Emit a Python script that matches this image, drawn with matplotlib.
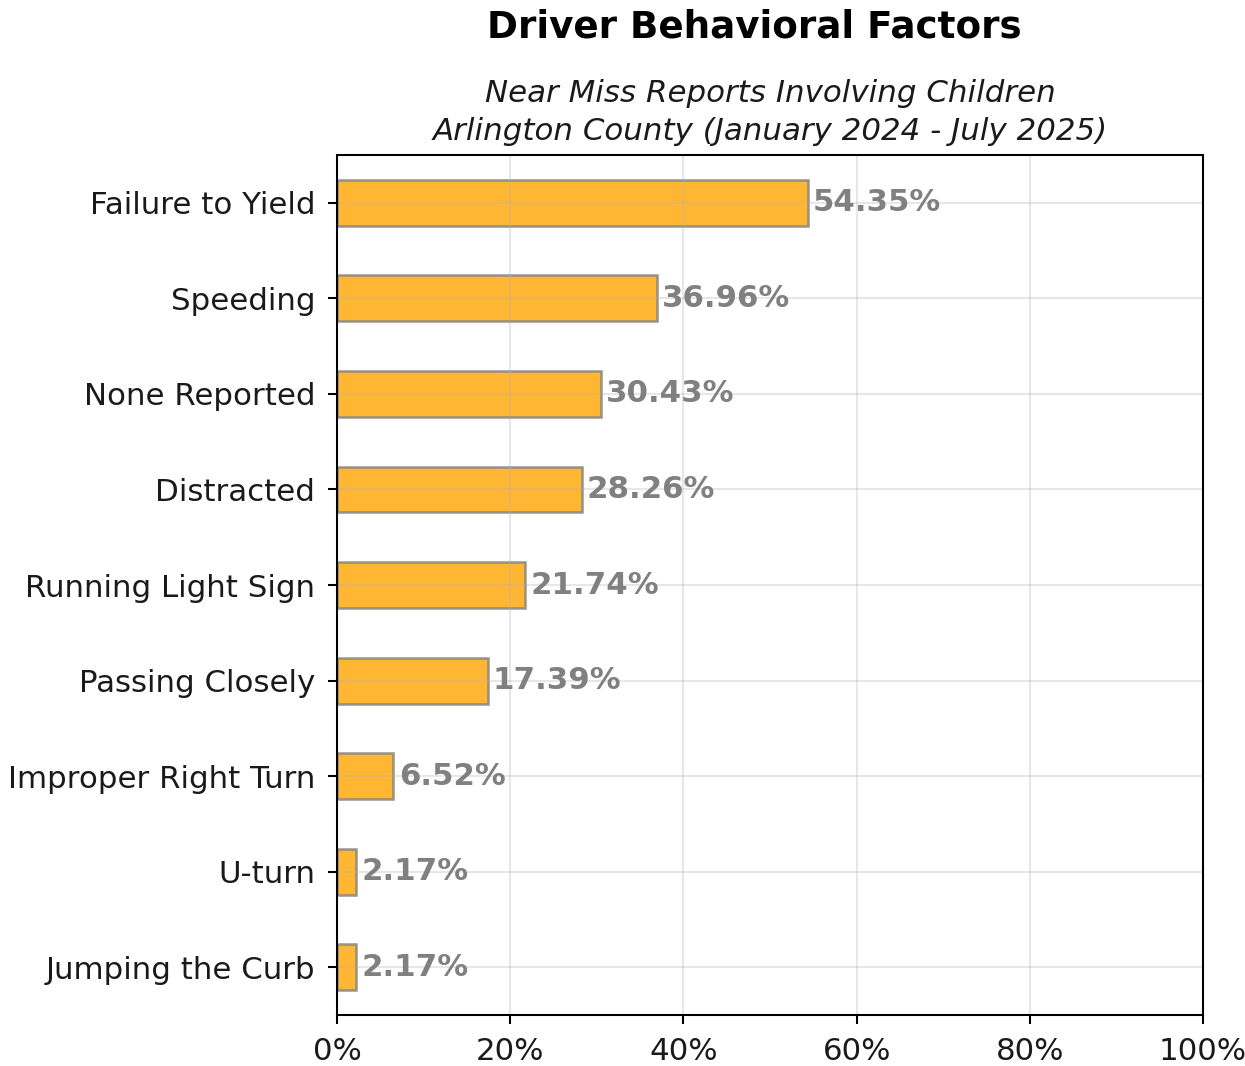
import matplotlib
matplotlib.use("Agg")
from matplotlib import pyplot as plt
from matplotlib.ticker import FuncFormatter

factors = ["Failure to Yield", "Speeding", "None Reported", "Distracted",
           "Running Light Sign", "Passing Closely", "Improper Right Turn",
           "U-turn", "Jumping the Curb"]
percents = [54.35, 36.96, 30.43, 28.26, 21.74, 17.39, 6.52, 2.17, 2.17]

fig, ax = plt.subplots(figsize=(1245 / 185, 1066 / 185), dpi=185)
fig.subplots_adjust(left=0.2707, right=0.9663, top=0.8546, bottom=0.0478)

ax.barh(factors, percents, height=0.48, color="orange", alpha=0.8,
        edgecolor="gray", linewidth=1)
ax.grid(True, alpha=0.3)

# percentage labels next to each bar
for i, v in enumerate(percents):
    ax.text(v + 0.6, i, f"{v:.2f}%", va="center", ha="left",
            fontsize=12, fontweight="bold", color="gray")

ax.set_xlim(0, 100)
ax.set_ylim(8.5, -0.5)
ax.set_xticks([0, 20, 40, 60, 80, 100])
ax.xaxis.set_major_formatter(FuncFormatter(lambda x, p: f"{x:.0f}%"))
ax.tick_params(labelsize=12, pad=5, labelcolor="#1a1a1a")

fig.text(0.606, 0.975, "Driver Behavioral Factors", ha="center", va="center",
         fontsize=14.5, fontweight="bold")
ax.set_title("Near Miss Reports Involving Children\nArlington County (January 2024 - July 2025)",
             fontsize=12, style="italic", pad=6, linespacing=1.38, color="#1a1a1a")

fig.savefig("out.png", dpi=185)
